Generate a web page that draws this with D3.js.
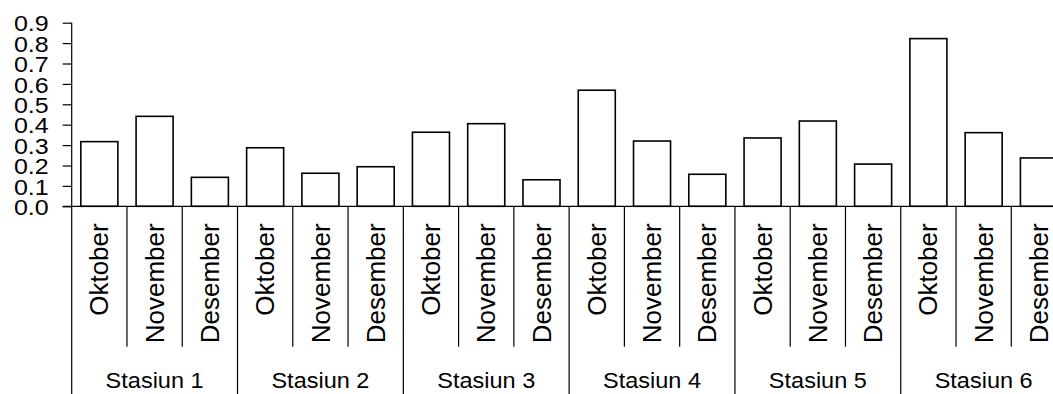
<!DOCTYPE html>
<html>
<head>
<meta charset="utf-8">
<script src="https://cdn.jsdelivr.net/npm/d3@7"></script>
<style>
html,body{margin:0;padding:0;background:#fff;}
svg{display:block;}
text{font-family:"Liberation Sans", Arial, sans-serif; fill:#000;}
</style>
</head>
<body>
<svg id="chart" width="1053" height="394"></svg>
<script>
const stations = ["Stasiun 1","Stasiun 2","Stasiun 3","Stasiun 4","Stasiun 5","Stasiun 6"];
const months = ["Oktober","November","Desember"];
const values = [
  [0.317, 0.441, 0.142],
  [0.287, 0.162, 0.194],
  [0.363, 0.405, 0.130],
  [0.569, 0.320, 0.157],
  [0.335, 0.418, 0.207],
  [0.822, 0.361, 0.237]
];
const yTicks = [0.0,0.1,0.2,0.3,0.4,0.5,0.6,0.7,0.8,0.9];

const rows = [];
stations.forEach((s,si)=>months.forEach((m,mi)=>rows.push({station:s, month:m, key:s+"|"+m, value:values[si][mi]})));

const svg = d3.select("#chart");
const x0 = 71.7, step = 55.27;
const x = d3.scaleBand().domain(rows.map(d=>d.key)).range([x0, x0+step*rows.length])
  .paddingInner(0.33).paddingOuter(0.165);
const y = d3.scaleLinear().domain([0,0.9]).range([206.3, 22.7]);
const baseY = y(0);

// bars
svg.append("g").selectAll("rect").data(rows).join("rect")
  .attr("x", d=>x(d.key)).attr("width", x.bandwidth())
  .attr("y", d=>y(d.value)).attr("height", d=>baseY-y(d.value))
  .attr("fill","#fff").attr("stroke","#000").attr("stroke-width",1.6);

// y axis
const yAxis = svg.append("g").attr("transform",`translate(${x0},0)`)
  .call(d3.axisLeft(y).tickValues(yTicks).tickSize(9).tickFormat(d3.format(".1f")));
yAxis.select(".domain").remove();
yAxis.selectAll("line").attr("stroke","#000").attr("stroke-width",1.2);
yAxis.selectAll("text").remove();
yAxis.selectAll(".tick").append("g").attr("transform","translate(-23,0) scale(1,0.9)")
  .append("text").attr("text-anchor","end").attr("dy","0.36em")
  .attr("font-size",25).text(d=>d3.format(".1f")(d));

// vertical axis line
svg.append("line").attr("x1",x0).attr("x2",x0).attr("y1",y(0.9)).attr("y2",394)
  .attr("stroke","#000").attr("stroke-width",1.2);
// baseline
svg.append("line").attr("x1",x0-9).attr("x2",1053).attr("y1",baseY).attr("y2",baseY)
  .attr("stroke","#000").attr("stroke-width",1.2);

// month dividers and labels
const bandStart = d => x(d.key) - x.step()*0.165;
svg.append("g").selectAll("line").data(rows).join("line")
  .attr("x1", d=>bandStart(d)+x.step()).attr("x2", d=>bandStart(d)+x.step())
  .attr("y1", baseY).attr("y2", (d,i)=> (i%3===2) ? 394 : 346.7)
  .attr("stroke","#000").attr("stroke-width",1.2);

svg.append("g").selectAll("text").data(rows).join("text")
  .attr("transform", d=>`translate(${x(d.key)+x.bandwidth()/2},223.3) rotate(-90)`)
  .attr("text-anchor","end").attr("dy","0.35em").attr("font-size",26)
  .text(d=>d.month);

// station labels
svg.append("g").selectAll("g").data(stations).join("g")
  .attr("transform",(s,i)=>`translate(${x0+step*(3*i+1.5)},387.5) scale(1,0.93)`)
  .append("text").attr("text-anchor","middle").attr("font-size",23.5).text(s=>s);
</script>
</body>
</html>
